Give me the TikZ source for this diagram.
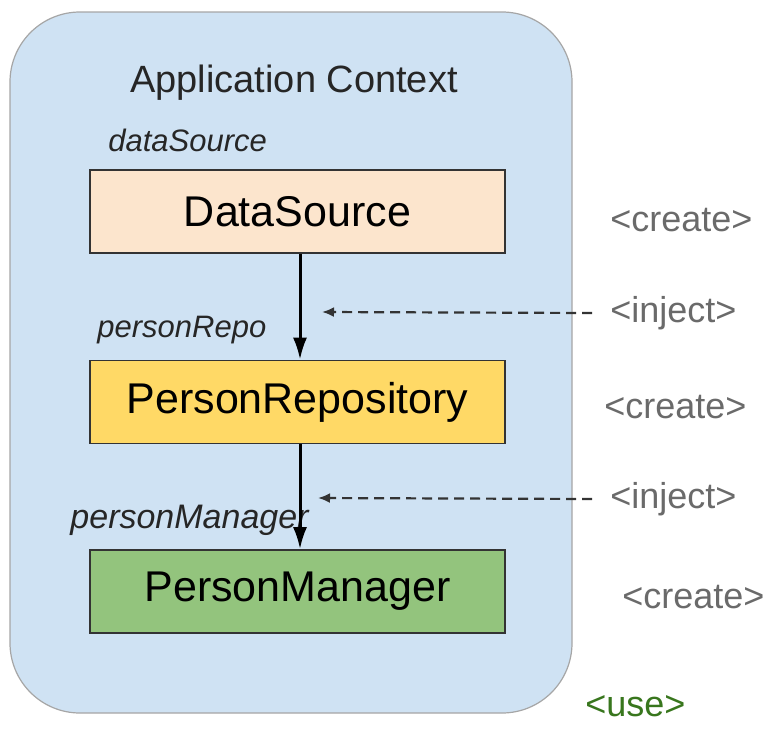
\documentclass[tikz,border=0pt]{standalone}
\usepackage{fontspec}
\setmainfont{Liberation Sans}
\usetikzlibrary{arrows.meta}
\definecolor{ctxblue}{HTML}{CFE2F3}
\definecolor{peach}{HTML}{FCE5CD}
\definecolor{gold}{HTML}{FFD966}
\definecolor{leaf}{HTML}{93C47D}
\definecolor{note}{HTML}{6A6A6A}
\definecolor{usegreen}{HTML}{38761D}
\begin{document}
\begin{tikzpicture}[x=0.5pt, y=0.5pt]
		\tikzset{>={Latex[length=11pt,width=7pt]}}
		\tikzset{bean/.style={draw=black!80, line width=0.8pt, minimum width=207.5pt, minimum height=41.5pt, font=\fontsize{21.5}{24}\selectfont},
			beanname/.style={font=\fontsize{15.5}{18}\selectfont\itshape, text=black!85, inner sep=0pt},
			step note/.style={font=\fontsize{18}{21}\selectfont, text=note, inner sep=0pt}}
		\useasboundingbox (0,0) rectangle (769,-728);
		\node[draw=black!35, fill=ctxblue, rounded corners=35pt, minimum width=281pt, minimum height=350.5pt, line width=0.6pt] (ctx) at (291,-362.5) {};
		\node[font=\fontsize{19}{22}\selectfont, text=black!85] (title) at (294,-83) {Application Context};
		\node[bean, fill=peach] (ds) at (297.5,-211.5) {DataSource};
		\node[bean, fill=gold] (repo) at (297.5,-402) {PersonRepository};
		\node[bean, fill=leaf] (mgr) at (297.5,-591.5) {PersonManager};
		\node[beanname, anchor=west] (dsname) at (108,-140) {dataSource};
		\node[beanname, anchor=west] (reponame) at (97,-330) {personRepo};
		\node[beanname, anchor=east, font=\fontsize{17}{20}\selectfont\itshape] (mgrname) at (309,-520) {personManager};
		\draw [->, line width=1.5pt] (ds.south -| 300,0) -- (repo.north -| 300,0);
		\draw [->, line width=1.5pt] (repo.south -| 300,0) -- (mgr.north -| 300,0);
		\node[step note, anchor=west] (c1) at (610,-220) {<create>};
		\node[step note, anchor=west] (i1) at (610,-313) {<inject>};
		\node[step note, anchor=west] (c2) at (604,-407) {<create>};
		\node[step note, anchor=west] (i2) at (610,-499) {<inject>};
		\node[step note, anchor=west] (c3) at (622,-597) {<create>};
		\node[step note, anchor=west, text=usegreen] (use) at (585,-706) {<use>};
		\coordinate (t1) at (322,-312);
		\coordinate (t2) at (318,-498);
		\draw [-{Latex[length=6pt,width=5pt]}, dash pattern=on 5pt off 3pt, line width=1.1pt, black!80] (i1.west) ++(-18,0) -- (t1);
		\draw [-{Latex[length=6pt,width=5pt]}, dash pattern=on 5pt off 3pt, line width=1.1pt, black!80] (i2.west) ++(-18,0) -- (t2);
	\end{tikzpicture}
\end{document}
